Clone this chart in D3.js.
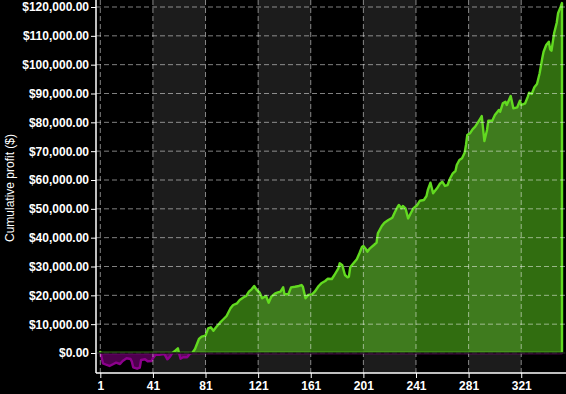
<!DOCTYPE html>
<html>
<head>
<meta charset="utf-8">
<script src="https://cdn.jsdelivr.net/npm/d3@7"></script>
<style>
	body { margin: 0; background: #000; }
	svg { display: block; }
	.tick text { font-family: "Liberation Sans", Arial, sans-serif; font-weight: bold; font-size: 12px; fill: #fff; }
	.axis_title { font-family: "Liberation Sans", Arial, sans-serif; font-size: 12px; fill: #fff; }
</style>
</head>
<body>
<div id="chart"></div>
<script>
// trade number (x) and cumulative profit in $ (y)
let trades = [1, 3, 6, 8, 11, 13, 16, 18, 21, 24, 25, 26, 29, 31, 32, 35, 37, 40, 41, 43,
	46, 49, 50, 52, 54, 56, 58, 60, 61, 62, 64, 67, 69, 71, 73, 76, 78, 81, 83, 85,
	87, 89, 92, 94, 97, 100, 102, 105, 107, 110, 112, 114, 116, 118, 120, 122, 124, 126, 127, 129,
	131, 134, 136, 138, 140, 141, 144, 146, 149, 152, 154, 155, 157, 159, 162, 164, 167, 169, 172, 174,
	177, 179, 182, 183, 185, 187, 189, 190, 191, 193, 196, 198, 200, 201, 203, 204, 206, 209, 211, 212,
	215, 217, 220, 223, 225, 227, 228, 230, 231, 233, 235, 237, 239, 242, 244, 247, 249, 250, 252, 254,
	257, 259, 261, 263, 265, 267, 269, 271, 272, 274, 276, 278, 279, 280, 282, 284, 286, 288, 290, 291,
	293, 295, 296, 299, 301, 304, 305, 307, 309, 310, 313, 315, 318, 320, 321, 324, 326, 327, 329, 331,
	333, 335, 337, 338, 340, 342, 343, 344, 346, 348, 349, 351, 352];
let profit = [400, -3570, -4160, -4510, -3810, -3360, -3810, -2770, -1840, -2080, -3020, -4960, -5440, -5100, -2430, -2180, -2880, -2770, -1840, -590,
	-590, -350, -590, -2180, -1280, 100, 800, 1630, -350, -1980, -1490, -1490, -350, 100, 1390, 4860, 5650, 6000, 8570, 8910,
	7730, 8910, 10510, 11440, 12830, 15500, 16650, 17240, 18380, 19320, 19770, 21260, 22090, 23240, 21850, 21050, 18970, 19520, 19770, 17440,
	19520, 20700, 21050, 21260, 22780, 20360, 20360, 22780, 22990, 23240, 23580, 22990, 18970, 20110, 20360, 21260, 23240, 24170, 24970, 25770,
	25660, 27050, 29370, 31110, 30410, 27050, 26250, 26460, 29720, 30870, 32500, 34580, 36860, 37110, 35960, 35130, 36310, 37450, 38250, 41510,
	44040, 45190, 46120, 46920, 48900, 50630, 51330, 50180, 50980, 50180, 46710, 48450, 50180, 51330, 52820, 53060, 54450, 56530, 59060, 55380,
	57120, 58610, 59410, 57920, 58260, 60590, 62320, 63120, 65200, 66930, 67520, 69460, 72130, 75600, 76190, 77580, 78480, 79870, 81400, 82190,
	73520, 77340, 80560, 80560, 82540, 84270, 83680, 86600, 87150, 86010, 89130, 84860, 85210, 87500, 86010, 86600, 88890, 90270, 89820, 92150,
	93290, 97000, 102200, 104490, 106810, 107960, 105320, 104840, 110870, 114550, 117810, 120090, 121380];

let x_ticks = [1, 41, 81, 121, 161, 201, 241, 281, 321];
let y_ticks = [0, 10000, 20000, 30000, 40000, 50000, 60000, 70000, 80000, 90000, 100000, 110000, 120000];

let width = 566, height = 394;
let axis_x = 96, axis_y = 373;

let pos_color = "rgb(98,218,32)";
let neg_color = "rgb(140,0,140)";
let grid_stroke_color = "rgba(255,255,255,0.5)";

let data = trades.map((t, i) => ({trade: t, profit: profit[i]}));

let svg = d3.select("#chart")
	.append("svg")
	.attr("width", width)
	.attr("height", height);

let xScale = d3.scaleLinear()
	.domain([1, 352])
	.range([100.3, 562]);

let yScale = d3.scaleLinear()
	.domain([0, 120000])
	.range([353, 7]);

// alternating shaded columns between x ticks
let bands = d3.pairs(x_ticks).filter((p, i) => i % 2 === 1);
svg.selectAll("rect.band")
	.data(bands)
	.enter()
	.append("rect")
	.attr("class", "band")
	.attr("x", d => xScale(d[0]))
	.attr("y", 0)
	.attr("width", d => xScale(d[1]) - xScale(d[0]))
	.attr("height", axis_y)
	.attr("fill", "#1c1c1c");

// clip paths for above / below zero
let defs = svg.append("defs");
defs.append("clipPath").attr("id", "clip_pos")
	.append("rect")
	.attr("x", axis_x).attr("y", 0)
	.attr("width", width - axis_x).attr("height", yScale(0));
defs.append("clipPath").attr("id", "clip_neg")
	.append("rect")
	.attr("x", axis_x).attr("y", yScale(0))
	.attr("width", width - axis_x).attr("height", axis_y - yScale(0));

let area = d3.area()
	.x(d => xScale(d.trade))
	.y0(yScale(0))
	.y1(d => yScale(d.profit));

svg.append("path")
	.datum(data)
	.attr("clip-path", "url(#clip_pos)")
	.attr("d", area)
	.attr("fill", pos_color)
	.attr("fill-opacity", 0.5)
	.attr("stroke", pos_color)
	.attr("stroke-width", 2.4)
	.attr("stroke-linejoin", "round");

svg.append("path")
	.datum(data)
	.attr("clip-path", "url(#clip_neg)")
	.attr("d", area)
	.attr("fill", neg_color)
	.attr("fill-opacity", 0.55)
	.attr("stroke", neg_color)
	.attr("stroke-width", 2.4)
	.attr("stroke-linejoin", "round");

// gridlines
svg.selectAll("line.hgrid")
	.data(y_ticks)
	.enter()
	.append("line")
	.attr("class", "hgrid")
	.attr("x1", axis_x)
	.attr("x2", width)
	.attr("y1", d => yScale(d))
	.attr("y2", d => yScale(d))
	.attr("stroke", grid_stroke_color)
	.attr("stroke-dasharray", "5,3");

svg.selectAll("line.vgrid")
	.data(x_ticks)
	.enter()
	.append("line")
	.attr("class", "vgrid")
	.attr("x1", d => xScale(d))
	.attr("x2", d => xScale(d))
	.attr("y1", 0)
	.attr("y2", axis_y)
	.attr("stroke", grid_stroke_color)
	.attr("stroke-dasharray", "5,3");

// zero line
svg.append("line")
	.attr("x1", axis_x)
	.attr("x2", width)
	.attr("y1", yScale(0))
	.attr("y2", yScale(0))
	.attr("stroke", "#0a0a0a")
	.attr("stroke-width", 1.5);

// axes
let yAxis = d3.axisLeft(yScale)
	.tickValues(y_ticks)
	.tickSize(5)
	.tickPadding(2)
	.tickFormat(d => "$" + d3.format(",.2f")(d));

svg.append("g")
	.attr("class", "y axis")
	.attr("transform", "translate(" + axis_x + ",0)")
	.call(yAxis)
	.call(g => g.select(".domain").remove());

let xAxis = d3.axisBottom(xScale)
	.tickValues(x_ticks)
	.tickSize(5)
	.tickPadding(3)
	.tickFormat(d3.format("d"));

svg.append("g")
	.attr("class", "x axis")
	.attr("transform", "translate(0," + axis_y + ")")
	.call(xAxis)
	.call(g => g.select(".domain").remove());

svg.selectAll(".tick line").attr("stroke", "#fff");

svg.append("line")
	.attr("x1", axis_x).attr("x2", axis_x)
	.attr("y1", 0).attr("y2", axis_y)
	.attr("stroke", "#fff")
	.attr("stroke-width", 1.5);
svg.append("line")
	.attr("x1", axis_x).attr("x2", width)
	.attr("y1", axis_y).attr("y2", axis_y)
	.attr("stroke", "#fff")
	.attr("stroke-width", 1.5);

svg.append("text")
	.attr("class", "axis_title")
	.attr("transform", "rotate(-90)")
	.attr("x", -188)
	.attr("y", 14)
	.style("text-anchor", "middle")
	.text("Cumulative profit ($)");
</script>
</body>
</html>
